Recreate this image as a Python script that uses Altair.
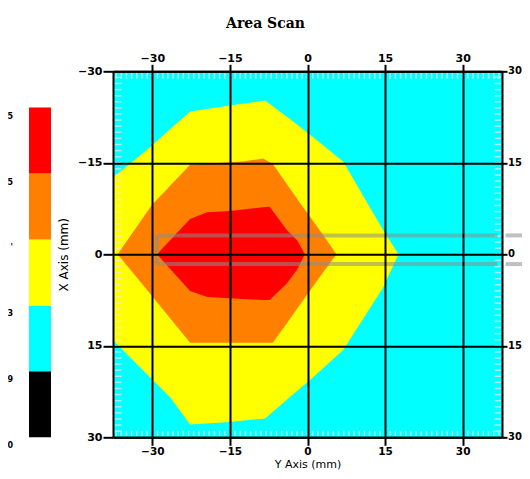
import altair as alt
import pandas as pd

# ------------------------------------------------------------------ data
TITLE = "Area Scan"
H_TITLE = "Y Axis (mm)"
V_TITLE = "X Axis (mm)"
MAJOR_TICKS = [-30, -15, 0, 15, 30]
RIGHT_LABELS = ["30", "15", "0", "15", "30"]
H_DOMAIN = [-37.6, 37.6]
V_DOMAIN = [-30, 30]

# colour bar (bottom -> top)
LEVEL_NAMES = ["L1", "L2", "L3", "L4", "L5"]
LEVEL_COLORS = ["#000000", "#00ffff", "#ffff00", "#ff8000", "#ff0000"]
BAR_LOW = [0, 1, 2, 3, 4]
BAR_HIGH = [1, 2, 3, 4, 5]
BAR_DOMAIN = [0, 5.55]
BAR_LABEL_POS = [0, 1, 2, 3, 4, 5]
BAR_LABEL_TEXT = ["0", "9", "3", "'", "5", "5"]

# contour bands: horizontal position (mm) with upper / lower edge (mm)
YELLOW_H = [-37.6, -30.5, -26.6, -22.7, -15.0, -8.2, -3.4, 0.5, 6.9, 14.6, 17.6]
YELLOW_TOP = [-12.6, -17.5, -20.5, -23.4, -24.4, -25.2, -22.2, -19.6, -15.2, -4.0, 0.0]
YELLOW_BOTTOM = [14.1, 20.1, 23.4, 27.9, 27.5, 26.9, 23.4, 20.6, 15.7, 5.5, 0.0]

ORANGE_H = [-36.7, -30.1, -22.7, -12.5, -8.6, -6.7, -3.4, -1.5, 3.0, 5.6]
ORANGE_TOP = [0.0, -8.1, -14.7, -15.2, -15.7, -14.8, -10.8, -8.5, -3.2, 0.0]
ORANGE_BOTTOM = [0.0, 6.8, 14.5, 14.5, 14.5, 14.5, 10.6, 8.3, 3.0, 0.0]

RED_H = [-29.1, -22.7, -19.4, -15.0, -8.6, -7.3, -4.0, -2.0, -0.5]
RED_TOP = [0.0, -5.8, -6.9, -7.1, -7.7, -7.8, -4.0, -2.3, 0.0]
RED_BOTTOM = [0.0, 6.0, 7.0, 7.2, 7.5, 7.5, 4.8, 2.5, 0.0]

# grey scan-line marker
GRAY_V = [-3.1, 1.6]
GRAY_START = [-29.1, 38.3]
GRAY_END = [36.7, 41.5]

MINOR_H = list(range(-37, 38))
MINOR_V = list(range(-29, 30))

# ------------------------------------------------------------------ styling
LABEL_FONT = "DejaVu Sans"
MINOR_COLOR = "#f6e4e8"
GRAY_COLOR = "#8c8c8c"
PLOT_W, PLOT_H = 389, 366

xscale = alt.Scale(domain=H_DOMAIN, nice=False, zero=False)
yscale = alt.Scale(domain=V_DOMAIN, reverse=True, nice=False, zero=False)

common_axis = dict(
    values=MAJOR_TICKS, tickColor="black", tickWidth=2,
    domainColor="black", domainWidth=2,
    labelFont=LABEL_FONT, labelFontWeight="bold",
    labelColor="black", labelFlush=False, labelOverlap=False, zindex=1,
)

axis_bottom = alt.Axis(
    orient="bottom", grid=True, gridColor="black", gridWidth=2, gridOpacity=1,
    tickSize=8, labelPadding=1, labelFontSize=10.5, title=H_TITLE,
    titleFont=LABEL_FONT, titleFontSize=11, titleFontWeight="normal",
    titleColor="black", titleY=27, titleBaseline="middle", **common_axis)
axis_top = alt.Axis(orient="top", grid=False, tickSize=7, labelPadding=1,
                    labelFontSize=11, title=None, **common_axis)
axis_left = alt.Axis(
    orient="left", grid=True, gridColor="black", gridWidth=2, gridOpacity=1,
    tickSize=10, labelPadding=1, labelFontSize=11, title=V_TITLE,
    titleFont=LABEL_FONT, titleFontSize=12, titleFontWeight="normal",
    titleColor="black", titleX=-50, titleBaseline="middle", titleAngle=270,
    **common_axis)
axis_right = alt.Axis(orient="right", grid=False, tickSize=5, labels=False,
                      title=None, **common_axis)


def band(hs, tops, bottoms, color, x_axis=None, y_axis=None):
    df = pd.DataFrame({"h": hs, "top": tops, "bottom": bottoms})
    return alt.Chart(df).mark_area(color=color, interpolate="linear").encode(
        x=alt.X("h:Q", scale=xscale, axis=x_axis),
        y=alt.Y("top:Q", scale=yscale, axis=y_axis),
        y2="bottom:Q",
    )


yellow = band(YELLOW_H, YELLOW_TOP, YELLOW_BOTTOM, LEVEL_COLORS[2],
              x_axis=axis_bottom, y_axis=axis_left)
orange = band(ORANGE_H, ORANGE_TOP, ORANGE_BOTTOM, LEVEL_COLORS[3])
red = band(RED_H, RED_TOP, RED_BOTTOM, LEVEL_COLORS[4])

minor_h_df = pd.DataFrame({"h": MINOR_H})
minor_v_df = pd.DataFrame({"top": MINOR_V})

minor_top = alt.Chart(minor_h_df).mark_tick(
    orient="vertical", size=7, thickness=1.5, color=MINOR_COLOR).encode(
    x=alt.X("h:Q", scale=xscale, axis=axis_top), y=alt.value(4))
minor_bottom = alt.Chart(minor_h_df).mark_tick(
    orient="vertical", size=5, thickness=1.5, color=MINOR_COLOR).encode(
    x=alt.X("h:Q", scale=xscale, axis=None), y=alt.value(PLOT_H - 4))
minor_right = alt.Chart(minor_v_df).mark_tick(
    orient="horizontal", size=7, thickness=1.5, color=MINOR_COLOR).encode(
    y=alt.Y("top:Q", scale=yscale, axis=axis_right), x=alt.value(PLOT_W - 4))
minor_left = alt.Chart(minor_v_df).mark_tick(
    orient="horizontal", size=7, thickness=1.5, color=MINOR_COLOR).encode(
    y=alt.Y("top:Q", scale=yscale, axis=None), x=alt.value(5))

right_lab_df = pd.DataFrame({"top": MAJOR_TICKS, "text": RIGHT_LABELS})
right_labels = alt.Chart(right_lab_df).mark_text(
    align="left", baseline="middle", dx=6, font=LABEL_FONT, fontSize=10,
    fontWeight="bold", color="black").encode(
    x=alt.value(PLOT_W), y=alt.Y("top:Q", scale=yscale, axis=None),
    text="text:N")

gray_rows = [{"h": s, "h2": e, "top": v} for v in GRAY_V
             for s, e in zip(GRAY_START, GRAY_END)]
gray_h = alt.Chart(pd.DataFrame(gray_rows)).mark_rule(
    color=GRAY_COLOR, strokeWidth=4, opacity=0.55, clip=False).encode(
    x=alt.X("h:Q", scale=xscale, axis=None), x2="h2:Q",
    y=alt.Y("top:Q", scale=yscale, axis=None))
gray_v = alt.Chart(pd.DataFrame({"h": [GRAY_START[0]], "top": [GRAY_V[0]],
                                 "bottom": [GRAY_V[1]]})).mark_rule(
    color=GRAY_COLOR, strokeWidth=4, opacity=0.55).encode(
    x=alt.X("h:Q", scale=xscale, axis=None),
    y=alt.Y("top:Q", scale=yscale, axis=None), y2="bottom:Q")

# colour bar, placed to the left of the plot area
bar_df = pd.DataFrame({"level": LEVEL_NAMES, "low": BAR_LOW, "high": BAR_HIGH})
bar_scale = alt.Scale(domain=BAR_DOMAIN, nice=False, zero=False)
bar = alt.Chart(bar_df).mark_rect().encode(
    x=alt.value(-84), x2=alt.value(-62),
    y=alt.Y("low:Q", scale=bar_scale, axis=None), y2="high:Q",
    color=alt.Color("level:N", scale=alt.Scale(domain=LEVEL_NAMES,
                                               range=LEVEL_COLORS), legend=None),
)
lab_df = pd.DataFrame({"pos": BAR_LABEL_POS, "text": BAR_LABEL_TEXT})
bar_labels = alt.Chart(lab_df).mark_text(
    align="right", baseline="middle", dy=9, font=LABEL_FONT, fontSize=8,
    fontWeight="bold", color="black").encode(
    x=alt.value(-100), y=alt.Y("pos:Q", scale=bar_scale, axis=None),
    text="text:N")

chart = alt.layer(
    yellow, orange, red, minor_top, minor_bottom, minor_left, minor_right,
    right_labels, gray_h, gray_v, bar, bar_labels,
).resolve_scale(y="independent").properties(
    width=PLOT_W, height=PLOT_H,
    autosize=alt.AutoSizeParams(type="none"),
    padding={"left": 105, "top": 63.3, "right": 20, "bottom": 33.7},
    view=alt.ViewBackground(fill="#00ffff", stroke=None),
    title=alt.TitleParams(TITLE, font="DejaVu Serif", fontSize=14,
                          fontWeight="bold", color="black", anchor="middle",
                          frame="group", dx=-42, offset=21),
).configure_view(stroke=None)

chart.save("out.html", embed_options={"renderer": "svg", "actions": False})
